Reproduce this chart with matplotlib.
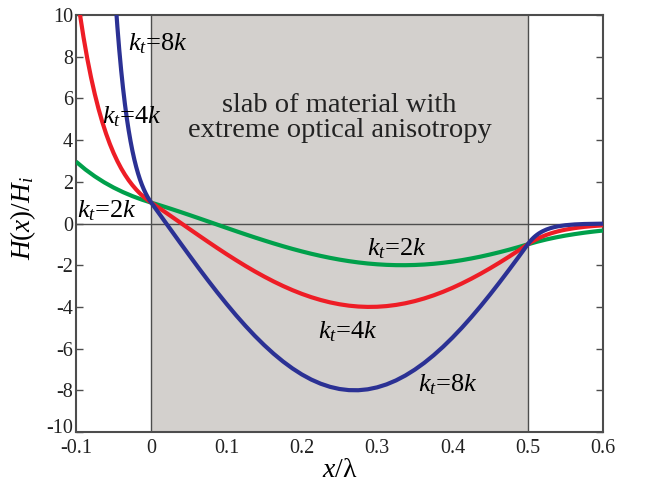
import matplotlib
matplotlib.use("Agg")
import matplotlib.pyplot as plt
import matplotlib.transforms as mtransforms

plt.rcParams['font.family'] = ['Liberation Serif', 'DejaVu Serif']
plt.rcParams['mathtext.fontset'] = 'custom'
plt.rcParams['mathtext.rm'] = 'Liberation Serif'
plt.rcParams['mathtext.it'] = 'Liberation Serif:italic'
plt.rcParams['mathtext.bf'] = 'Liberation Serif:bold'

# ---------------- data ----------------
x_slab = [0.0, 0.0125, 0.025, 0.0375, 0.05, 0.0625, 0.075, 0.0875, 0.1, 0.1125,
          0.125, 0.1375, 0.15, 0.1625, 0.175, 0.1875, 0.2, 0.2125, 0.225, 0.2375,
          0.25, 0.2625, 0.275, 0.2875, 0.3, 0.3125, 0.325, 0.3375, 0.35, 0.3625,
          0.375, 0.3875, 0.4, 0.4125, 0.425, 0.4375, 0.45, 0.4625, 0.475, 0.4875, 0.5]

green_slab = [1.0, 0.861, 0.717, 0.568, 0.416, 0.261, 0.105, -0.052, -0.209, -0.365,
              -0.518, -0.668, -0.813, -0.954, -1.089, -1.218, -1.338, -1.451, -1.554, -1.648,
              -1.732, -1.805, -1.867, -1.918, -1.956, -1.983, -1.997, -1.999, -1.989, -1.967,
              -1.932, -1.885, -1.827, -1.758, -1.677, -1.587, -1.486, -1.377, -1.259, -1.133, -1.0]
red_slab = [1.0, 0.693, 0.382, 0.068, -0.246, -0.558, -0.867, -1.171, -1.468, -1.755,
            -2.032, -2.296, -2.545, -2.780, -2.997, -3.196, -3.375, -3.533, -3.669, -3.783,
            -3.873, -3.940, -3.982, -4.000, -3.993, -3.961, -3.905, -3.825, -3.721, -3.595,
            -3.446, -3.276, -3.086, -2.876, -2.649, -2.406, -2.148, -1.877, -1.594, -1.301, -1.0]
blue_slab = [1.0, 0.374, -0.254, -0.881, -1.501, -2.114, -2.712, -3.295, -3.856, -4.395,
             -4.905, -5.386, -5.833, -6.245, -6.618, -6.950, -7.240, -7.485, -7.683, -7.834,
             -7.937, -7.991, -7.996, -7.952, -7.858, -7.716, -7.526, -7.290, -7.009, -6.685,
             -6.319, -5.915, -5.474, -5.000, -4.494, -3.961, -3.404, -2.825, -2.229, -1.620, -1.0]

green_left_x = [-0.1, -0.0875, -0.075, -0.0625, -0.05, -0.0375, -0.025, -0.0125, 0.0]
green_left_y = [2.969, 2.591, 2.262, 1.974, 1.723, 1.504, 1.313, 1.146, 1.0]
green_right_x = [0.5, 0.5125, 0.525, 0.5375, 0.55, 0.5625, 0.575, 0.5875, 0.6]
green_right_y = [-1.0, -0.873, -0.762, -0.665, -0.580, -0.507, -0.442, -0.386, -0.337]

red_left_x = [-0.095, -0.09, -0.085, -0.08, -0.075, -0.07, -0.065, -0.06, -0.055, -0.05,
              -0.045, -0.04, -0.035, -0.03, -0.025, -0.02, -0.015, -0.01, -0.005, 0.0]
red_left_y = [10.095, 8.938, 7.914, 7.008, 6.205, 5.494, 4.864, 4.307, 3.814, 3.377,
              2.990, 2.647, 2.344, 2.075, 1.838, 1.627, 1.441, 1.276, 1.129, 1.0]
red_right_x = [0.5, 0.505, 0.51, 0.515, 0.52, 0.525, 0.53, 0.535, 0.54, 0.545, 0.55,
               0.5625, 0.575, 0.5875, 0.6]
red_right_y = [-1.0, -0.885, -0.784, -0.694, -0.615, -0.544, -0.482, -0.427, -0.378, -0.334, -0.296,
               -0.219, -0.161, -0.119, -0.088]

blue_left_x = [-0.0475, -0.045, -0.0425, -0.04, -0.0375, -0.035, -0.0325, -0.03, -0.0275, -0.025,
               -0.0225, -0.02, -0.0175, -0.015, -0.0125, -0.01, -0.0075, -0.005, -0.0025, 0.0]
blue_left_y = [10.688, 9.435, 8.329, 7.353, 6.491, 5.730, 5.058, 4.465, 3.942, 3.480,
               3.072, 2.712, 2.394, 2.113, 1.865, 1.647, 1.454, 1.283, 1.133, 1.0]
blue_right_x = [0.5, 0.5025, 0.505, 0.5075, 0.51, 0.5125, 0.515, 0.5175, 0.52, 0.525,
                0.53, 0.535, 0.54, 0.55, 0.5625, 0.575, 0.6]
blue_right_y = [-1.0, -0.883, -0.779, -0.688, -0.607, -0.536, -0.473, -0.418, -0.369, -0.287,
                -0.224, -0.175, -0.136, -0.083, -0.044, -0.024, -0.007]

x_ticks = [-0.1, 0, 0.1, 0.2, 0.3, 0.4, 0.5, 0.6]
x_ticklabels = ['-0.1', '0', '0.1', '0.2', '0.3', '0.4', '0.5', '0.6']
y_ticks = [-10, -8, -6, -4, -2, 0, 2, 4, 6, 8, 10]
y_ticklabels = ['-10', '-8', '-6', '-4', '-2', '0', '2', '4', '6', '8', '10']
slab_start, slab_end = 0.0, 0.5

# ---------------- figure ----------------
GREEN = '#00a04b'
RED = '#ee1d26'
BLUE = '#2b3194'
SLAB = '#d3d0cd'
AX = '#4d4d4d'

fig = plt.figure(figsize=(6.51, 4.87), dpi=100)
ax = fig.add_axes([0.1167, 0.1129, 0.8096, 0.8563])
ax.set_xlim(-0.1, 0.6)
ax.set_ylim(-10, 10)

ax.axvspan(slab_start, slab_end, color=SLAB, zorder=0, lw=0)
ax.axvline(slab_start, color=AX, lw=1.0, zorder=1)
ax.axvline(slab_end, color=AX, lw=1.0, zorder=1)
ax.axhline(0, color=AX, lw=1.0, zorder=1)

lw = 3.0
for lx, ly, sy, rx, ry, c in [
    (green_left_x, green_left_y, green_slab, green_right_x, green_right_y, GREEN),
    (red_left_x, red_left_y, red_slab, red_right_x, red_right_y, RED),
    (blue_left_x, blue_left_y, blue_slab, blue_right_x, blue_right_y, BLUE),
]:
    xs = list(lx) + list(x_slab[1:]) + list(rx[1:])
    ys = list(ly) + list(sy[1:]) + list(ry[1:])
    ax.plot(xs, ys, color=c, lw=lw, solid_capstyle='butt', zorder=3)

for s in ax.spines.values():
    s.set_color(AX)
    s.set_linewidth(1.5)

ax.set_xticks(x_ticks)
ax.set_xticklabels(x_ticklabels)
ax.set_yticks(y_ticks)
ax.set_yticklabels(y_ticklabels)
ax.tick_params(axis='x', length=0, labelsize=14.5, pad=5, colors='#222222')
ax.tick_params(axis='y', direction='in', length=5, width=1.0, labelsize=14.5,
               right=True, pad=2, colors=AX, labelcolor='#222222')

# lift the lowest y tick label a little, as in the reference
for lbl in ax.get_yticklabels():
    if lbl.get_text() == '-10':
        lbl.set_transform(lbl.get_transform() +
                          mtransforms.ScaledTranslation(0, 4 / 72, fig.dpi_scale_trans))

ax.set_xlabel(r'$x$/λ', fontsize=20, labelpad=0)
ax.set_ylabel(r'$H$($x$)/$H_i$', fontsize=19.5, labelpad=0)
ax.yaxis.set_label_coords(-0.072, 0.512)

lab_fs = 19
ax.text(-0.0315, 8.6, r'$k_t$=8$k$', fontsize=lab_fs, va='center', ha='left', zorder=4)
ax.text(-0.065, 5.1, r'$k_t$=4$k$', fontsize=lab_fs, va='center', ha='left', zorder=4)
ax.text(-0.098, 0.6, r'$k_t$=2$k$', fontsize=lab_fs, va='center', ha='left', zorder=4)
ax.text(0.286, -1.2, r'$k_t$=2$k$', fontsize=lab_fs, va='center', ha='left', zorder=4)
ax.text(0.221, -5.2, r'$k_t$=4$k$', fontsize=lab_fs, va='center', ha='left', zorder=4)
ax.text(0.354, -7.75, r'$k_t$=8$k$', fontsize=lab_fs, va='center', ha='left', zorder=4)

ax.text(0.25, 5.05, 'slab of material with\nextreme optical anisotropy', fontsize=20.5,
        ha='center', va='center', color='#222222', linespacing=1.0, zorder=4)

fig.savefig('out.png', dpi=100)
